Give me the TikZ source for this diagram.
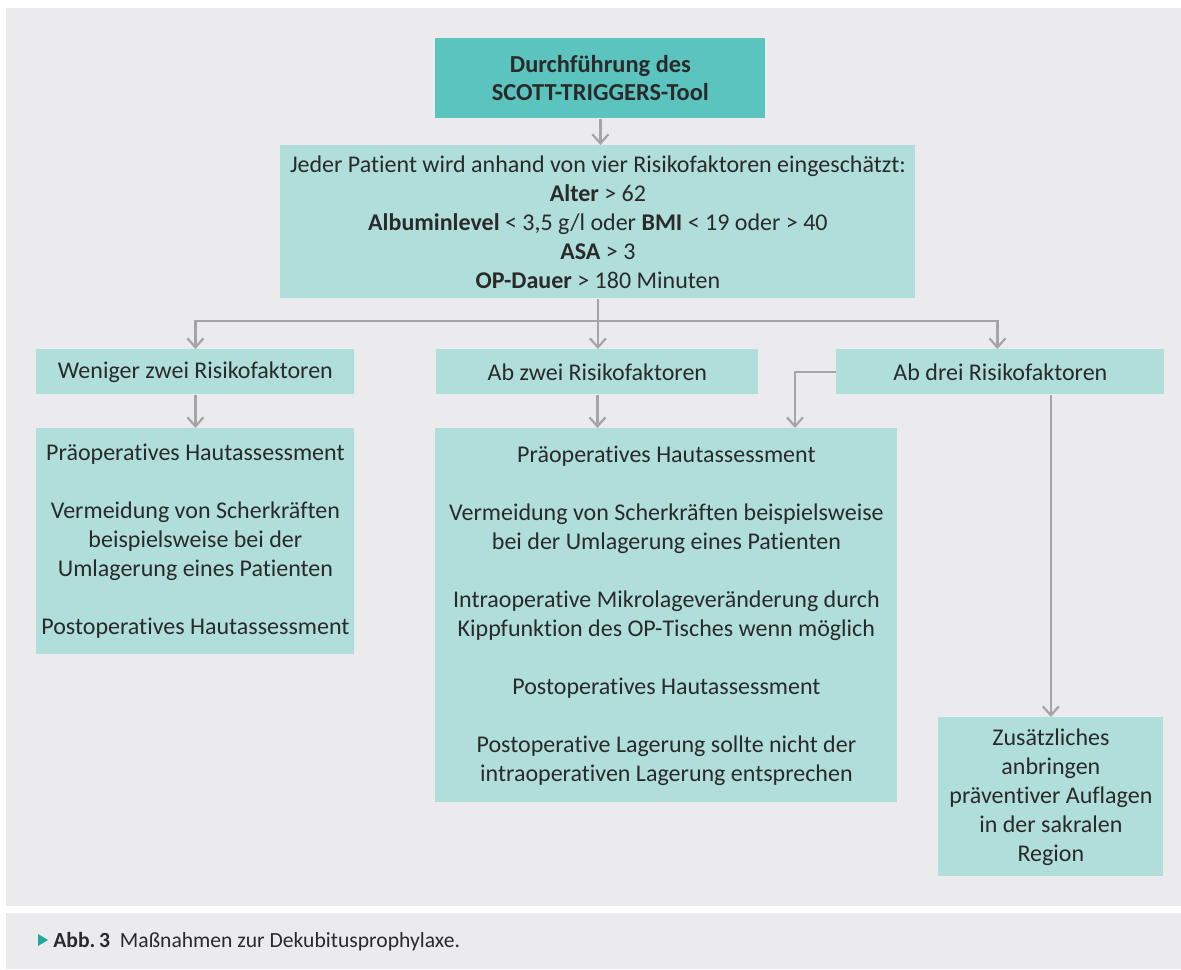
\documentclass[tikz,border=0pt]{standalone}
\usepackage{fontspec}
\setmainfont[Ligatures=NoCommon]{Carlito}
\usetikzlibrary{arrows.meta,calc}

\definecolor{panelgray}{HTML}{EBEBED}
\definecolor{boxlight}{HTML}{B0DEDB}
\definecolor{boxdark}{HTML}{5BC4BE}
\definecolor{linegray}{HTML}{A5A5A5}
\definecolor{textdark}{HTML}{2A2A2A}
\definecolor{markteal}{HTML}{1FA89E}

\tikzset{
  box/.style={anchor=north west, fill=boxlight, text=textdark, align=center,
    inner sep=0pt, font=\fontsize{12}{14.5}\selectfont},
  toolbox/.style={box, fill=boxdark, font=\bfseries\fontsize{12.2}{14}\selectfont},
  arr/.style={draw=linegray, line width=1.1pt,
    -{Straight Barb[length=4.5pt, width=8pt, line width=1.1pt]}},
  link/.style={draw=linegray, line width=1.1pt}
}

\begin{document}
\begin{tikzpicture}[x=0.5pt, y=-0.5pt]
		%%%%% START %%%%%
		
		\useasboundingbox (0, 0) rectangle (1181, 969);
		\fill[white] (0, 0) rectangle (1181, 969);
		\fill[panelgray] (6, 8) rectangle (1181, 906);
		\fill[panelgray] (6, 913) rectangle (1181, 969);
		
		\node[toolbox, minimum width=165pt, minimum height=40pt] (tool) at (435, 38)
			{Durchführung des\\SCOTT-TRIGGERS-Tool};
		
		\node[box, minimum width=317.5pt, minimum height=76.5pt] (risk) at (280, 145)
			{Jeder Patient wird anhand von vier Risikofaktoren eingeschätzt:\\
			\textbf{Alter} > 62\\
			\textbf{Albuminlevel} < 3,5 g/l oder \textbf{BMI} < 19 oder > 40\\
			\textbf{ASA} > 3\\
			\textbf{OP-Dauer} > 180 Minuten};
		
		\node[box, minimum width=159pt, minimum height=22.5pt] (weniger) at (36, 349)
			{Weniger zwei Risikofaktoren};
		\node[box, minimum width=161pt, minimum height=22.5pt] (abzwei) at (436, 349)
			{Ab zwei Risikofaktoren};
		\node[box, minimum width=164pt, minimum height=22.5pt] (abdrei) at (836, 349)
			{Ab drei Risikofaktoren};
		
		\node[box, minimum width=159pt, minimum height=113pt] (massL) at (36, 428)
			{Präoperatives Hautassessment\\[14.5pt]
			Vermeidung von Scherkräften\\beispielsweise bei der\\Umlagerung eines Patienten\\[14.5pt]
			Postoperatives Hautassessment};
		
		\node[box, minimum width=231pt, minimum height=187pt] (massM) at (435, 428)
			{Präoperatives Hautassessment\\[14.5pt]
			Vermeidung von Scherkräften beispielsweise\\bei der Umlagerung eines Patienten\\[14.5pt]
			Intraoperative Mikrolageveränderung durch\\Kippfunktion des OP-Tisches wenn möglich\\[14.5pt]
			Postoperatives Hautassessment\\[14.5pt]
			Postoperative Lagerung sollte nicht der\\intraoperativen Lagerung entsprechen};
		
		\node[box, minimum width=112.5pt, minimum height=79.5pt] (massR) at (938, 717)
			{Zusätzliches\\anbringen\\präventiver Auflagen\\in der sakralen\\Region};
		
		% connectors
		\coordinate (split) at (597, 321);
		\coordinate (drop) at (795, 428);
		\draw[arr] (tool.south) -- (tool.south |- risk.north);
		\draw[arr] (risk.south) -- (risk.south |- abzwei.north);
		\draw[arr] (split) -| (weniger.north);
		\draw[arr] (split) -| ($(abdrei.north)+(-3, 0)$);
		\draw[arr] (weniger.south) -- (massL.north);
		\draw[arr] (abzwei.south) -- (abzwei.south |- massM.north);
		\draw[arr] (abdrei.west) -| (drop);
		\draw[arr] (massR.north |- abdrei.south) -- (massR.north);
		
		% caption
		\fill[markteal] (38, 934) -- (48, 940) -- (38, 946) -- cycle;
		\node[anchor=base west, text=textdark, inner sep=0pt, font=\fontsize{10.8}{12}\selectfont] (caption) at (53, 947)
			{\textbf{Abb.\,3}\hspace{5pt}Maßnahmen zur Dekubitusprophylaxe.};
		
		%%%%% END %%%%%
	\end{tikzpicture}
\end{document}
